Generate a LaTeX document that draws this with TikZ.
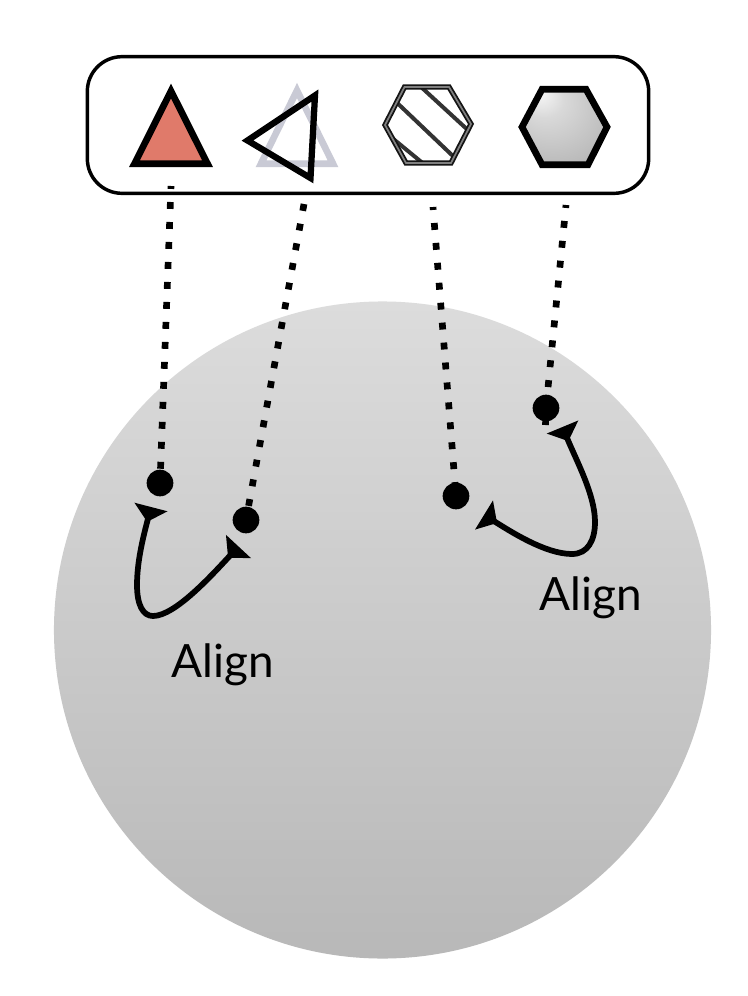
\documentclass[tikz,border=0pt]{standalone}
\usepackage{fontspec}
\setmainfont{Lato}
\usetikzlibrary{arrows.meta}
\pgfdeclareradialshading{hexshade}{\pgfpoint{-16bp}{24bp}}{color(0bp)=(white!98!black); color(12bp)=(white!85!black); color(35bp)=(white!72!black); color(50bp)=(white!66!black)}
\definecolor{gtop}{HTML}{DCDCDC}
\definecolor{gbot}{HTML}{B8B8B8}
\definecolor{redfill}{HTML}{E07A6A}
\definecolor{ghost}{HTML}{C9CAD5}
\tikzset{
  every node/.style={inner sep=0pt,outer sep=0pt},
  shapeline/.style={line width=5pt,miter limit=10,line join=miter},
  dotnode/.style={circle,fill=black,minimum size=20pt},
  dotted link/.style={line width=5pt,dash pattern=on 5.2pt off 9.8pt},
  align link/.style={line width=4.3pt,
    {Triangle[reversed,length=11.5pt,width=25pt]}-{Triangle[reversed,length=11.5pt,width=25pt]}},
  lbl/.style={font=\fontsize{34.4pt}{36pt}\selectfont,anchor=base},
  panel/.style={draw,line width=2.6pt,rounded corners=26pt,minimum width=421pt,minimum height=102.5pt,fill=white}
}
\begin{document}
\begin{tikzpicture}[x=0.75pt,y=-0.75pt]
\useasboundingbox (0,0) rectangle (748,996);
\fill[white] (0,0) rectangle (748,996);
% sphere
\shade[top color=gtop,bottom color=gbot] (382.5,630) circle (246.4pt);
% panel
\node[panel] (box) at (368,125) {};
% shapes
\draw[shapeline,fill=redfill] (171,91) -- (207.5,163.7) -- (134.5,163.7) -- cycle;
\draw[shapeline,draw=ghost] (297,90.5) -- (333,163.7) -- (261,163.7) -- cycle;
\draw[shapeline,line width=4.7pt] (247.5,140.5) -- (315,95.5) -- (310.5,178) -- cycle;
% hatched hexagon
\begin{scope}
\clip (385,125) -- (404.5,87) -- (449,87) -- (471,124) -- (451,163) -- (406,163) -- cycle;
\draw[line width=3pt,draw=black!80] (420,86) -- (470,132);
\draw[line width=3pt,draw=black!80] (392,98) -- (455,158);
\draw[line width=3pt,draw=black!80] (380,128) -- (425,165);
\end{scope}
\draw[draw=black!92,line width=1.35pt,double=black!50,double distance=1.3pt]
  (385,125) -- (404.5,87) -- (449,87) -- (471,124) -- (451,163) -- (406,163) -- cycle;
% shaded hexagon
\draw[shapeline,shading=hexshade] (522,127) -- (542,89.3) -- (586,89.3) -- (607,127) -- (588,164.7) -- (542,164.7) -- cycle;
% dots
\node[dotnode] (d1) at (160,483) {};
\node[dotnode] (d2) at (246,520) {};
\node[dotnode] (d3) at (456,496) {};
\node[dotnode] (d4) at (546,408) {};
% free ends
\coordinate (t1) at (171,186);
\coordinate (t2) at (304,204);
\coordinate (t3) at (433,207);
\coordinate (t4) at (566,205);
\coordinate (a1) at (151,507);
\coordinate (a2) at (238.5,546.5);
\coordinate (a3) at (484,515);
\coordinate (a4) at (562.5,427);
% dotted connectors
\draw[dotted link,dash phase=3pt] (t1) -- (d1.center);
\draw[dotted link] (t2) -- (d2.center);
\draw[dotted link,dash phase=3pt] (t3) -- (d3.center);
\draw[dotted link,dash phase=3pt] (t4) -- (d4.center);
\draw[line width=5pt] (d4.center) -- (545.5,425);
% align arrows
\draw[align link] (a1) .. controls (144,534) and (137,560) .. (137,585)
  .. controls (137,605) and (143,616) .. (153,616)
  .. controls (175,616) and (212,575) .. (a2);
\draw[align link] (a3) .. controls (510,531) and (545,554) .. (572,554)
  .. controls (588,554) and (595,540) .. (595,522)
  .. controls (595,495) and (577,462) .. (a4);
% labels
\node[lbl] (l1) at (222.5,677) {Align};
\node[lbl] (l2) at (590.5,610) {Align};
\end{tikzpicture}
\end{document}
